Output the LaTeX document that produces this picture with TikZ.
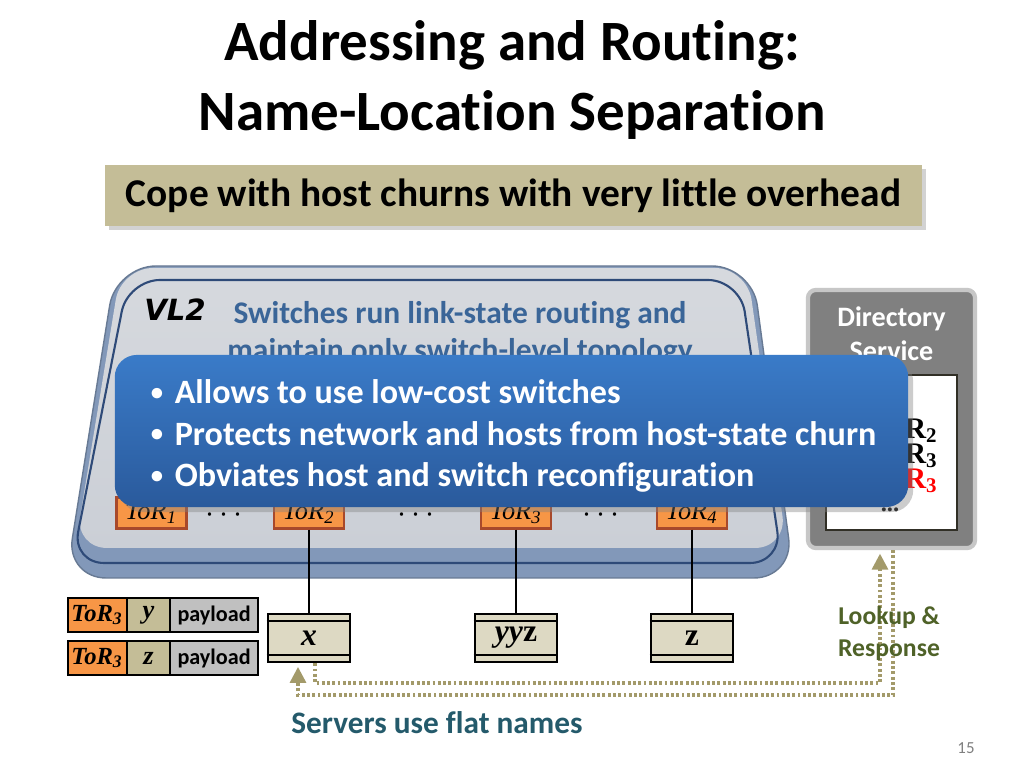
\documentclass[tikz,border=0pt]{standalone}
\usepackage{fontspec}
\setmainfont{Carlito}[Ligatures={NoCommon}]
\newfontfamily\cambria{Liberation Serif}
\newfontfamily\verdana{DejaVu Sans}
\usetikzlibrary{positioning,calc,shadows,arrows.meta}
\definecolor{torfill}{HTML}{F79646}
\definecolor{torline}{HTML}{A8492B}
\definecolor{khaki}{HTML}{C4BD97}
\definecolor{srvfill}{HTML}{DDD9C3}
\definecolor{payfill}{HTML}{C0C0C0}
\definecolor{vlbase}{HTML}{8298B9}
\definecolor{vltop}{HTML}{D6D9DE}
\definecolor{vlface}{HTML}{CBCFD6}
\definecolor{vlline}{HTML}{2E4A78}
\definecolor{notecol}{HTML}{3A6598}
\definecolor{bluetop}{HTML}{3A7BC8}
\definecolor{bluebot}{HTML}{2A5A9C}
\definecolor{flowcol}{HTML}{A39A6A}
\definecolor{lookcol}{HTML}{4F6228}
\definecolor{flatcol}{HTML}{245A6B}
\newcommand\fs[2]{\fontsize{#1}{#2}\selectfont}
\newcommand\blt{\makebox[0.24cm][l]{\raisebox{0.2ex}{\fs{7}{7}•}}}
\tikzset{
  torbox/.style={draw=torline, fill=torfill, line width=0.6pt, minimum width=0.7cm, minimum height=0.31cm, inner sep=0pt, font=\cambria\itshape\fs{7.5}{9}},
  server/.style={draw=black, fill=srvfill, line width=0.8pt, minimum width=0.82cm, minimum height=0.48cm, inner sep=0pt, font=\cambria\bfseries\fs{9}{10}},
  cell/.style={draw=black, line width=0.6pt, minimum height=0.34cm, inner sep=0pt, outer sep=0pt},
  entry/.style={anchor=east, inner sep=0pt, font=\cambria\bfseries\fs{8.5}{9}},
  flow/.style={draw=flowcol, line width=0.9pt, dash pattern=on 0.8pt off 0.7pt},
  flowhead/.style={-{Triangle[width=4.5pt,length=4.5pt]}, shorten >=1pt},
}

\begin{document}
\begin{tikzpicture}[x=0.01cm, y=-0.01cm]
    %%%%% START %%%%%
    \fill[white] (0,0) rectangle (1024,768);
    \useasboundingbox (0,0) rectangle (1024,768);

    \node[align=center, font=\bfseries\fs{16.2}{19.9}] (title) at (512,80) {Addressing and Routing:\\Name-Location Separation};
    \node[fill=khaki, minimum width=8.17cm, minimum height=0.61cm, inner sep=0pt, font=\bfseries\fs{11.2}{13},
      drop shadow={shadow xshift=0.04cm, shadow yshift=-0.04cm, opacity=0.35}] (cope) at (513.5,195.5) {Cope with host churns with very little overhead};

    % VL2 network
    \draw[line width=0.4pt, draw=vlbase!80!black, fill=vlbase, rounded corners=0.4cm] (116,266) -- (752,266) -- (794,578) -- (66,578) -- cycle;
    \shade[top color=vltop, bottom color=vlface, rounded corners=0.32cm] (121,268) -- (747,268) -- (787,548) -- (75,548) -- cycle;
    \draw[line width=0.6pt, draw=vlline, rounded corners=0.32cm] (128,280) -- (740,280) -- (782,563) -- (72,563) -- cycle;

    \node[font=\verdana\bfseries\itshape\fs{8.3}{9}] (vl2) at (175,310) {VL2};
    \node[align=center, text=notecol, font=\bfseries\fs{8.95}{10.5}] (switchnote) at (460,334) {Switches run link-state routing and\\maintain only switch-level topology};

    \node[torbox] (tor1) at (151.5,513) {ToR\textsubscript{1}};
    \node[torbox] (tor2) at (309,513) {ToR\textsubscript{2}};
    \node[torbox] (tor3) at (516,513) {ToR\textsubscript{3}};
    \node[torbox] (tor4) at (692,513) {ToR\textsubscript{4}};
    \node[font=\bfseries\fs{9}{10}] (dots1) at (224,515) {$\cdots$};
    \node[font=\bfseries\fs{9}{10}] (dots2) at (416,515) {$\cdots$};
    \node[font=\bfseries\fs{9}{10}] (dots3) at (601,515) {$\cdots$};

    % servers
    \node[server] (srvx) at (309,638) {\itshape x};
    \node[server] (srvyyz) at (516,638) {\textit{yy}z};
    \node[server] (srvz) at (692,638) {z};
    \foreach \s in {srvx,srvyyz,srvz}{
      \draw[line width=0.6pt] ($(\s.north west)+(0,8)$) -- ($(\s.north east)+(0,8)$);
      \draw[line width=0.6pt] ($(\s.south west)+(0,-8)$) -- ($(\s.south east)+(0,-8)$);
    }
    \draw[line width=0.4pt] (tor2) -- (srvx);
    \draw[line width=0.4pt] (tor3) -- (srvyyz);
    \draw[line width=0.4pt] (tor4) -- (srvz);

    % packets
    \node[cell, fill=torfill, minimum width=0.59cm, font=\cambria\bfseries\itshape\fs{7}{8}] (pkt1tor) at (97.5,615) {ToR\textsubscript{3}};
    \node[cell, fill=khaki, minimum width=0.43cm, right=0pt of pkt1tor, font=\cambria\bfseries\itshape\fs{7.5}{8}] (pkt1name) {y};
    \node[cell, fill=payfill, minimum width=0.88cm, right=0pt of pkt1name, font=\bfseries\fs{6.3}{7}] (pkt1pay) {payload};
    \node[cell, fill=torfill, minimum width=0.59cm, below=0.09cm of pkt1tor, font=\cambria\bfseries\itshape\fs{7}{8}] (pkt2tor) {ToR\textsubscript{3}};
    \node[cell, fill=khaki, minimum width=0.43cm, right=0pt of pkt2tor, font=\cambria\bfseries\itshape\fs{7.5}{8}] (pkt2name) {z};
    \node[cell, fill=payfill, minimum width=0.88cm, right=0pt of pkt2name, font=\bfseries\fs{6.3}{7}] (pkt2pay) {payload};

    % directory
    \node[draw=black!22, line width=1.2pt, fill=black!50, rounded corners=0.08cm, minimum width=1.67cm, minimum height=2.58cm] (dir) at (891.5,419) {};
    \node[align=center, text=white, font=\bfseries\fs{8}{9.7}] (dirname) at (891.5,334) {Directory\\Service};
    \node[draw=black!75!khaki, line width=0.8pt, fill=white, minimum width=1.31cm, minimum height=1.55cm] (dirtable) at (891.5,452.5) {};
    \node[entry] (entry1) at (939,431) {ToR\textsubscript{2}};
    \node[entry] (entry2) at (939,456) {ToR\textsubscript{3}};
    \node[entry, text=red] (entry3) at (939,481) {ToR\textsubscript{3}};
    \node[font=\cambria\bfseries\fs{7}{8}] (entry4) at (890,510) {...};

    % benefits
    \node[rounded corners=0.22cm, top color=bluetop, bottom color=bluebot, minimum width=7.93cm, minimum height=1.52cm,
      drop shadow={shadow xshift=0.05cm, shadow yshift=-0.05cm, opacity=0.4}] (benefits) at (511.5,431) {};
    \node[anchor=west, align=left, inner sep=0pt, text=white, font=\bfseries\fs{9.7}{11.8}] (benefitlist) at ([xshift=0.36cm, yshift=-0.05cm]benefits.west)
      {\blt Allows to use low-cost switches\\
       \blt Protects network and hosts from host-state churn\\
       \blt Obviates host and switch reconfiguration};

    % lookup and response
    \coordinate (lkbend) at (880,683);
    \coordinate (rsbend) at (893,695);
    \draw[flow, flowhead] ($(srvx.south)+(6,0)$) |- (lkbend) -- (lkbend |- dir.south);
    \draw[flow, flowhead] (rsbend |- dir.south) -- (rsbend) -| ($(srvx.south)+(-11,0)$);

    \node[align=center, text=lookcol, font=\bfseries\fs{7.3}{9.1}] (lookup) at (889,634) {Lookup \&\\Response};
    \node[text=flatcol, font=\bfseries\fs{8.9}{10}] (flatnames) at (437,723) {Servers use flat names};
    \node[text=black!50, font=\fs{4.8}{6}] (pageno) at (966,748) {15};
    %%%%% END %%%%%
\end{tikzpicture}
\end{document}
